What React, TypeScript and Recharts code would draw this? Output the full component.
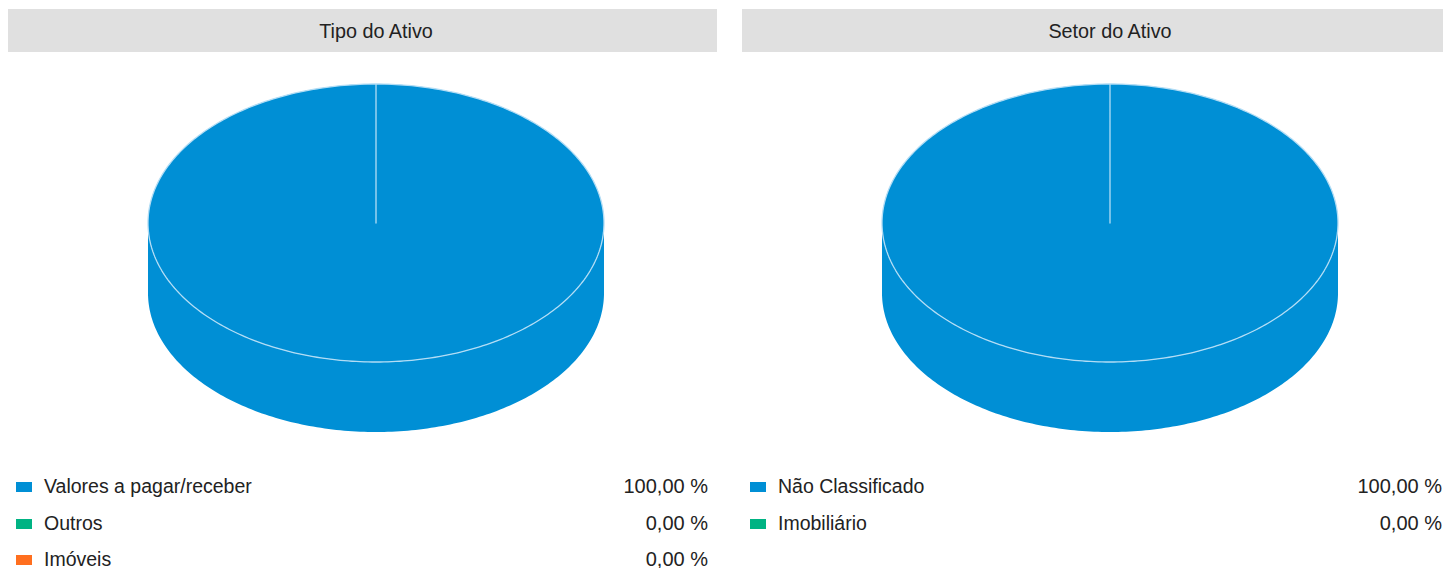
import React from "react";
import { PieChart, Pie, Cell } from "recharts";

const tipoLabels = ["Valores a pagar/receber", "Outros", "Imóveis"];
const tipoValues = [100, 0, 0];
const tipoColors = ["#008FD5", "#00B383", "#FF6F1F"];

const setorLabels = ["Não Classificado", "Imobiliário"];
const setorValues = [100, 0];
const setorColors = ["#008FD5", "#00B383"];

const TILT = 139 / 228;
const DEPTH = 70;
const EDGE = "#b3ddf5";

const pt = (cx: number, cy: number, rx: number, ry: number, a: number, dy = 0) => {
  const r = (a * Math.PI) / 180;
  return [cx + rx * Math.cos(r), cy - ry * Math.sin(r) + dy];
};

const arcPts = (cx: number, cy: number, rx: number, ry: number, a0: number, a1: number, dy = 0) => {
  const n = Math.max(2, Math.ceil(Math.abs(a1 - a0)));
  const out: string[] = [];
  for (let i = 0; i <= n; i++) {
    const a = a0 + ((a1 - a0) * i) / n;
    const [x, y] = pt(cx, cy, rx, ry, a, dy);
    out.push(`${x.toFixed(2)},${y.toFixed(2)}`);
  }
  return out;
};

function Slice3D(props: any) {
  const { cx, cy, outerRadius, startAngle, endAngle, fill } = props;
  if (startAngle === endAngle) return <g />;
  const rx = outerRadius;
  const ry = outerRadius * TILT;
  const lo = Math.min(startAngle, endAngle);
  const hi = Math.max(startAngle, endAngle);
  const walls: string[] = [];
  for (let k = -2; k <= 2; k++) {
    const a = Math.max(lo, 180 + 360 * k);
    const b = Math.min(hi, 360 + 360 * k);
    if (a < b) {
      const top = arcPts(cx, cy, rx, ry, a, b);
      const bot = arcPts(cx, cy, rx, ry, b, a, DEPTH);
      walls.push("M" + top.join(" L") + " L" + bot.join(" L") + " Z");
    }
  }
  const face = "M" + cx + "," + cy + " L" + arcPts(cx, cy, rx, ry, startAngle, endAngle).join(" L") + " Z";
  return (
    <g>
      {walls.map((d, i) => (
        <path key={i} d={d} fill={fill} stroke="none" />
      ))}
      <path d={face} fill={fill} stroke={EDGE} strokeWidth={1.3} strokeLinejoin="round" />
    </g>
  );
}

const font = "'Liberation Sans', Arial, sans-serif";

function Panel({ title, labels, values, colors, left }: { title: string; labels: string[]; values: number[]; colors: string[]; left: number }) {
  const data = labels.map((name, i) => ({ name, value: values[i] }));
  const total = values.reduce((s, v) => s + v, 0);
  return (
    <div style={{ position: "absolute", left, top: 9, width: 709, height: 560, fontFamily: font, color: "#222" }}>
      <div style={{ position: "absolute", left: 0, top: 0, width: 709, height: 43, background: "#e0e0e0" }}>
        <div style={{ position: "absolute", left: 368 - 200, width: 400, top: 0, fontSize: 19.8, lineHeight: "45px", textAlign: "center" }}>
          {title}
        </div>
      </div>
      <div style={{ position: "absolute", left: 0, top: 43 }}>
        <PieChart width={709} height={400} margin={{ top: 0, right: 0, bottom: 0, left: 0 }}>
          <Pie
            data={data}
            dataKey="value"
            nameKey="name"
            cx={368}
            cy={171}
            outerRadius={228}
            startAngle={90}
            endAngle={-270}
            isAnimationActive={false}
            shape={Slice3D}
            inactiveShape={Slice3D}
            activeShape={Slice3D}
            stroke="none"
          >
            {data.map((d, i) => (
              <Cell key={d.name} fill={colors[i]} />
            ))}
          </Pie>
        </PieChart>
      </div>
      {data.map((d, i) => (
        <div key={d.name} style={{ position: "absolute", left: 0, top: 466 + i * 36.5, width: 709, height: 22, fontSize: 19.5, lineHeight: "22px" }}>
          <span style={{ position: "absolute", left: 8, top: 7, width: 16, height: 10, background: colors[i] }} />
          <span style={{ position: "absolute", left: 36, top: 0 }}>{d.name}</span>
          <span style={{ position: "absolute", right: 9, top: 0, fontSize: 20 }}>
            {((d.value / total) * 100).toFixed(2).replace(".", ",")} %
          </span>
        </div>
      ))}
    </div>
  );
}

export default function App() {
  return (
    <div style={{ position: "fixed", left: 0, top: 0, width: 1443, height: 568, overflow: "hidden", background: "#fff" }}>
      <Panel title="Tipo do Ativo" labels={tipoLabels} values={tipoValues} colors={tipoColors} left={8} />
      <Panel title="Setor do Ativo" labels={setorLabels} values={setorValues} colors={setorColors} left={742} />
    </div>
  );
}
